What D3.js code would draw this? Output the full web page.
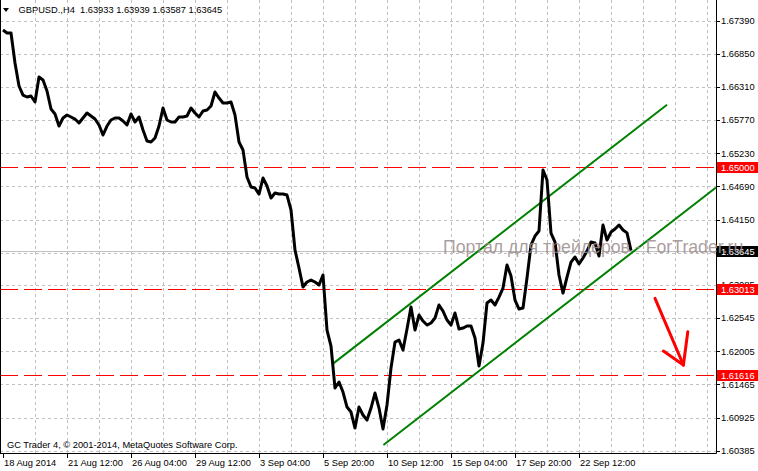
<!DOCTYPE html>
<html><head><meta charset="utf-8">
<script src="https://cdn.jsdelivr.net/npm/d3@7/dist/d3.min.js"></script>
<style>
body{margin:0;background:#fff}
svg{display:block}
text{font-family:"Liberation Sans",Arial,sans-serif;white-space:pre}
</style>
</head><body>
<svg id="c" width="758" height="471"></svg>
<script>
// ---- data ----
const title = "GBPUSD.,H4  1.63933 1.63939 1.63587 1.63645";
const copyright = "GC Trader 4, \u00A9 2001-2014, MetaQuotes Software Corp.";
const watermark = "Портал для трейдеров - ForTrader.ru";

// H4 close prices, one per bar
const closes = [
1.67238,1.67190,1.67190,1.66701,1.66326,1.66179,1.66147,1.66163,1.66066,1.66473,
1.66424,1.66245,1.65951,1.65870,1.65674,1.65805,1.65854,1.65821,1.65788,1.65723,
1.65805,1.65886,1.65837,1.65788,1.65691,1.65528,1.65674,1.65772,1.65805,1.65805,
1.65756,1.65691,1.65870,1.65740,1.65821,1.65609,1.65430,1.65414,1.65479,1.65674,
1.65968,1.65772,1.65740,1.65740,1.65821,1.65821,1.65837,1.65968,1.65886,1.65821,
1.65919,1.65935,1.66000,1.66228,1.66130,1.66049,1.66049,1.66066,1.65854,1.65414,
1.65283,1.64843,1.64680,1.64664,1.64566,1.64827,1.64697,1.64501,1.64583,1.64566,
1.64566,1.64550,1.64306,1.63654,1.63361,1.63051,1.63133,1.63165,1.63133,1.63084,
1.63247,1.62351,1.62090,1.61406,1.61504,1.61341,1.61096,1.61015,1.60754,1.61096,
1.60966,1.60884,1.61080,1.61324,1.61080,1.60738,1.61129,1.61732,1.62155,1.62188,
1.62025,1.62367,1.62725,1.62351,1.62595,1.62497,1.62432,1.62465,1.62546,1.62758,
1.62660,1.62514,1.62432,1.62628,1.62367,1.62383,1.62416,1.62416,1.62220,1.61764,
1.62139,1.62791,1.62839,1.62758,1.62888,1.63035,1.63410,1.63230,1.62839,1.62693,
1.62709,1.63198,1.63736,1.63882,1.63964,1.64957,1.64794,1.63931,1.63784,1.63247,
1.62953,1.63214,1.63458,1.63540,1.63426,1.63524,1.63638,1.63784,1.63768,1.63556,
1.64061,1.63817,1.63947,1.63996,1.64061,1.63980,1.63933,1.63645
];

const xTickBars   = [0,16,32,48,64,80,96,112,128,144];
const xTickLabels = ["18 Aug 2014","21 Aug 12:00","26 Aug 04:00","29 Aug 12:00","3 Sep 04:00",
                     "5 Sep 20:00","10 Sep 12:00","15 Sep 04:00","17 Sep 20:00","22 Sep 12:00"];
const yTickLabels = ["1.67390","1.66850","1.66310","1.65770","1.65230","1.64690","1.64150",
                     "1.63610","1.63085","1.62545","1.62005","1.61465","1.60925","1.60385"];
const yTickValues = yTickLabels.map(Number);

const levelValues = [1.65000, 1.63013, 1.61616];
const levelLabels = ["1.65000", "1.63013", "1.61616"];
const bidValue = 1.63645;
const bidLabel = "1.63645";

// channel lines: [bar, price]
const channelUpper = [[82.6, 1.61808], [166, 1.66021]];
const channelLower = [[95.1, 1.60477], [178.25, 1.64671]];
// arrow strokes: [bar, price]
const arrowShaft = [[163, 1.62867], [170.1, 1.61781]];
const arrowWingL = [[165.1, 1.62009], [170.1, 1.61781]];
const arrowWingR = [[171.2, 1.62323], [170.1, 1.61781]];

// ---- layout ----
const W = 758, H = 471;
const plotR = 716, plotB = 453;
const x = d3.scaleLinear().domain([0, 178.25]).range([3, plotR]);
const y = d3.scaleLinear().domain([1.60385, 1.67390]).range([450.7, 20.7]);

const svg = d3.select("#c");
svg.append("rect").attr("width", W).attr("height", H).attr("fill", "#fff");

svg.append("clipPath").attr("id", "clip")
  .append("rect").attr("x", 0).attr("y", 0).attr("width", plotR).attr("height", plotB);

const plot = svg.append("g").attr("clip-path", "url(#clip)");

// grid
const gridBars = d3.range(8, 178, 8);
plot.selectAll(".vg").data(gridBars).join("line")
  .attr("x1", d => Math.round(x(d)) + 0.5).attr("x2", d => Math.round(x(d)) + 0.5)
  .attr("y1", 0).attr("y2", plotB)
  .attr("stroke", "#c0c0c0").attr("stroke-dasharray", "3,3");
plot.selectAll(".hg").data(yTickValues).join("line")
  .attr("x1", 0).attr("x2", plotR)
  .attr("y1", d => Math.round(y(d)) + 0.5).attr("y2", d => Math.round(y(d)) + 0.5)
  .attr("stroke", "#c0c0c0").attr("stroke-dasharray", "3,3");

// bid line
plot.append("line")
  .attr("x1", 0).attr("x2", plotR)
  .attr("y1", Math.round(y(bidValue)) + 0.5).attr("y2", Math.round(y(bidValue)) + 0.5)
  .attr("stroke", "#c0c0c0");

// red levels
plot.selectAll(".lv").data(levelValues).join("line")
  .attr("x1", 0).attr("x2", plotR)
  .attr("y1", d => Math.round(y(d)) + 0.5).attr("y2", d => Math.round(y(d)) + 0.5)
  .attr("stroke", "#ff0000").attr("stroke-dasharray", "18,6");

// channel
const seg = d3.line().x(d => x(d[0])).y(d => y(d[1]));
[channelUpper, channelLower].forEach(c => {
  plot.append("path").attr("d", seg(c)).attr("fill", "none")
    .attr("stroke", "#008000").attr("stroke-width", 2);
});

// price line
const line = d3.line().x((d, i) => x(i)).y(d => y(d));
plot.append("path").datum(closes).attr("d", line)
  .attr("fill", "none").attr("stroke", "#000").attr("stroke-width", 3)
  .attr("stroke-linejoin", "round");

// arrow
[arrowShaft, arrowWingL, arrowWingR].forEach(a => {
  plot.append("path").attr("d", seg(a)).attr("fill", "none")
    .attr("stroke", "#ff0000").attr("stroke-width", 3).attr("stroke-linecap", "round");
});

// axes frame
svg.append("line").attr("x1", plotR + 0.5).attr("x2", plotR + 0.5).attr("y1", 0).attr("y2", plotB + 0.5)
  .attr("stroke", "#000");
svg.append("line").attr("x1", 0).attr("x2", plotR + 0.5).attr("y1", plotB + 0.5).attr("y2", plotB + 0.5)
  .attr("stroke", "#000");
svg.append("line").attr("x1", 0.5).attr("x2", 0.5).attr("y1", 0).attr("y2", plotB)
  .attr("stroke", "#000");

// y ticks (labels hidden behind a price box are not drawn, as in the reference)
const boxH = 11;
const boxed = levelValues.concat([bidValue]);
const yt = svg.append("g");
yt.selectAll("line").data(yTickValues).join("line")
  .attr("x1", plotR).attr("x2", plotR + 4)
  .attr("y1", d => Math.round(y(d)) + 0.5).attr("y2", d => Math.round(y(d)) + 0.5)
  .attr("stroke", "#000");
const visibleY = yTickValues.map((v, i) => ({v, t: yTickLabels[i]}))
  .filter(d => boxed.every(b => Math.abs(y(b) - y(d.v)) > 4));
yt.selectAll("text").data(visibleY).join("text")
  .attr("x", 721).attr("y", d => y(d.v) + 3.3)
  .attr("font-size", "9.3px").attr("fill", "#000").text(d => d.t);

// x ticks
const xt = svg.append("g");
xt.selectAll("line").data(xTickBars).join("line")
  .attr("x1", d => Math.round(x(d)) + 0.5).attr("x2", d => Math.round(x(d)) + 0.5)
  .attr("y1", plotB).attr("y2", plotB + 5)
  .attr("stroke", "#000");
xt.selectAll("text").data(xTickLabels).join("text")
  .attr("x", (d, i) => x(xTickBars[i]) + 1).attr("y", 466)
  .attr("font-size", "9.3px").attr("fill", "#000").text(d => d);

// level boxes
levelValues.forEach((v, i) => {
  const cy = Math.round(y(v)) + 0.5;
  svg.append("rect").attr("x", plotR + 1).attr("y", cy - boxH / 2).attr("width", W - plotR - 1).attr("height", boxH)
    .attr("fill", "#ff0000");
  svg.append("text").attr("x", 721).attr("y", cy + 3.5).attr("font-size", "9.3px").attr("fill", "#fff")
    .text(levelLabels[i]);
});
{
  const cy = Math.round(y(bidValue)) + 0.5;
  svg.append("rect").attr("x", plotR + 1).attr("y", cy - boxH / 2).attr("width", W - plotR - 1).attr("height", boxH)
    .attr("fill", "#000");
  svg.append("text").attr("x", 721).attr("y", cy + 3.5).attr("font-size", "9.3px").attr("fill", "#fff")
    .text(bidLabel);
}

// watermark
svg.append("text").attr("x", 443).attr("y", 253).attr("font-size", "17.7px")
  .attr("fill", "#9a8c8c").attr("fill-opacity", 0.85).text(watermark);

// title
svg.append("path").attr("d", "M3,8 L9,8 L6,12 Z").attr("fill", "#000");
svg.append("text").attr("x", 18.5).attr("y", 13).attr("font-size", "9.3px").attr("fill", "#000").text(title);

// copyright
svg.append("text").attr("x", 7).attr("y", 448).attr("font-size", "9.3px").attr("fill", "#000").text(copyright);
</script>
</body></html>
